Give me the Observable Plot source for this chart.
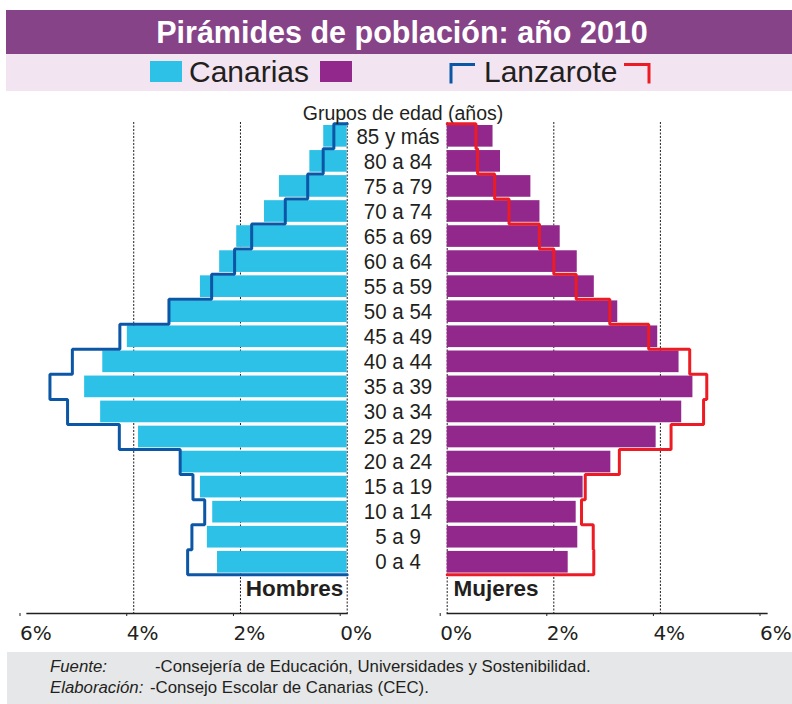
<!DOCTYPE html>
<html><head><meta charset="utf-8">
<script src="https://cdn.jsdelivr.net/npm/d3@7"></script>
<script src="https://cdn.jsdelivr.net/npm/@observablehq/plot@0.6"></script>
<style>
body{margin:0;background:#fff;}
#chart{position:relative;width:792px;height:704px;overflow:hidden;background:#fff;}
#chart > svg{position:absolute;left:0;}
</style></head><body><div id="chart"></div>
<script>
// ---- data (bottom row first) ----
const title = "Pirámides de población: año 2010";
const seriesNames = ["Canarias", "Lanzarote"];
const axisTitle = "Grupos de edad (años)";
const sexLabels = ["Hombres", "Mujeres"];
const tickValues = [0, 2, 4, 6];
const gridValues = [0, 2, 4];
const ageGroups = ["0 a 4","5 a 9","10 a 14","15 a 19","20 a 24","25 a 29","30 a 34","35 a 39","40 a 44","45 a 49","50 a 54","55 a 59","60 a 64","65 a 69","70 a 74","75 a 79","80 a 84","85 y más"];
const canariasHombres  = [2.43,2.62,2.52,2.75,3.12,3.91,4.62,4.92,4.58,4.12,3.32,2.75,2.39,2.07,1.55,1.27,0.70,0.44];
const canariasMujeres  = [2.27,2.45,2.42,2.55,3.07,3.92,4.40,4.61,4.35,3.95,3.20,2.76,2.44,2.12,1.74,1.57,1.00,0.86];
const lanzaroteHombres = [2.99,2.91,2.67,2.89,3.13,4.27,5.24,5.57,5.15,4.26,3.34,2.54,2.11,1.79,1.16,0.74,0.45,0.25];
const lanzaroteMujeres = [2.75,2.74,2.52,2.59,3.23,4.20,4.81,4.87,4.55,3.78,3.05,2.42,2.00,1.73,1.16,0.89,0.57,0.54];
const sourceLabels = ["Fuente:", "Elaboración:"];
const sourceTexts = ["-Consejería de Educación, Universidades y Sostenibilidad.", "-Consejo Escolar de Canarias (CEC)."];

// ---- styles ----
const C = {cyan:"#2EC1E7", purple:"#93288C", blue:"#0C56A6", red:"#ED1C24", ink:"#231F20", band:"#864388", pink:"#F2E4F0", gray:"#E6E7E8"};
const SANS = "'Liberation Sans', Arial, Helvetica, sans-serif";
const TICKF = "'DejaVu Sans', Verdana, sans-serif";

const rows = ageGroups.map((age, i) => ({age, i,
  ch: canariasHombres[i], cm: canariasMujeres[i], lh: lanzaroteHombres[i], lm: lanzaroteMujeres[i]}));
const steps = key => [{x: 0, y: 0}, ...rows.map(d => ({x: d[key], y: d.i})), {x: 0, y: rows.length}];

const chart = document.getElementById("chart");
const NS = "http://www.w3.org/2000/svg";
function el(tag, attrs, parent, text) {
  const e = document.createElementNS(NS, tag);
  for (const k in attrs) e.setAttribute(k, attrs[k]);
  if (text != null) e.textContent = text;
  if (parent) parent.appendChild(e);
  return e;
}
// horizontally condense text elements (narrow-font look) without moving them
function condense(nodes, s) {
  nodes.forEach(t => {
    const tr = t.getAttribute("transform");
    if (tr) t.setAttribute("transform", tr + ` scale(${s},1)`);
    else {
      const x = +t.getAttribute("x") || 0, y = +t.getAttribute("y") || 0;
      t.removeAttribute("x"); t.removeAttribute("y");
      t.setAttribute("transform", `translate(${x},${y}) scale(${s},1)`);
    }
  });
}

// ---- header ----
const head = el("svg", {width: 792, height: 92, style: "top:0"}, chart);
el("rect", {x: 6, y: 10, width: 786, height: 44, fill: C.band}, head);
el("rect", {x: 6, y: 54, width: 786, height: 37, fill: C.pink}, head);
el("text", {x: 402, y: 43, "text-anchor": "middle", fill: "#fff", "font-family": SANS, "font-weight": "bold", "font-size": 30.5}, head, title);
el("rect", {x: 150, y: 61, width: 32, height: 21, fill: C.cyan}, head);
el("text", {x: 189, y: 82, fill: C.ink, "font-family": SANS, "font-size": 30}, head, seriesNames[0]);
el("rect", {x: 320, y: 61, width: 32, height: 21, fill: C.purple}, head);
el("path", {d: "M451,83.5V64.5H475", fill: "none", stroke: C.blue, "stroke-width": 3}, head);
el("text", {x: 484, y: 82, fill: C.ink, "font-family": SANS, "font-size": 30}, head, seriesNames[1]);
el("path", {d: "M624,64.5H649V83.5", fill: "none", stroke: C.red, "stroke-width": 3}, head);

// ---- pyramid halves ----
function side(left) {
  const barKey = left ? "ch" : "cm";
  const lineKey = left ? "lh" : "lm";
  const marks = [
    Plot.ruleX(gridValues, {stroke: C.ink, strokeDasharray: "2,1.5", strokeWidth: 1}),
    Plot.rectX(rows, {x: barKey, y: "i", interval: 1, fill: left ? C.cyan : C.purple, insetTop: 1.7, insetBottom: 1.7}),
    Plot.line(steps(lineKey), {x: "x", y: "y", curve: "step-before", stroke: left ? C.blue : C.red, strokeWidth: 3, strokeLinejoin: "miter"}),
    Plot.frame({anchor: "bottom", stroke: C.ink, strokeWidth: 1.3}),
    Plot.axisX(tickValues, {tickSize: 3, tickPadding: 9, tickFormat: d => d + "%", textAnchor: "start", dx: -7,
      fontSize: 20, fontFamily: TICKF, label: null}),
    Plot.text([sexLabels[left ? 0 : 1]], {frameAnchor: left ? "bottom-right" : "bottom-left",
      textAnchor: left ? "end" : "start", dx: left ? -4 : 6.3, dy: -17.2,
      fontWeight: "bold", fontSize: 22.5, fontFamily: SANS, fill: C.ink})
  ];
  if (left) {
    marks.push(
      Plot.axisY(rows.map(d => d.i + 0.5), {anchor: "right", tickSize: 0, tickPadding: 0, dx: 50.8, textAnchor: "middle",
        tickFormat: d => ageGroups[Math.floor(d)], fontSize: 22.4, fontFamily: SANS, label: null}),
      Plot.text([axisTitle], {frameAnchor: "top-right", textAnchor: "middle", dx: 55.8, dy: -16,
        fontSize: 19.5, fontFamily: SANS, fill: C.ink})
    );
  }
  const svg = Plot.plot({
    width: 792, height: 560,
    marginTop: 30, marginBottom: 39,
    marginLeft: left ? 26.5 : 446.7,
    marginRight: left ? 445.3 : 25.5,
    x: {domain: [0, 6], reverse: left, label: null},
    y: {domain: [0, rows.length], insetTop: 1.3, insetBottom: 38.7, label: null, axis: left ? undefined : null},
    style: {background: "none", color: C.ink, fontFamily: SANS, overflow: "visible"},
    marks
  });
  svg.style.top = "92px";
  chart.appendChild(svg);
  if (left) {
    const labels = [...svg.querySelectorAll("text")].filter(t => ageGroups.includes(t.textContent));
    condense(labels, 0.915);
  }
}
side(true);
side(false);

// ---- footer ----
const foot = el("svg", {width: 792, height: 52, style: "top:652px"}, chart);
el("rect", {x: 7, y: 0, width: 785, height: 52, fill: C.gray}, foot);
sourceLabels.forEach((lab, k) => {
  el("text", {x: 50, y: 20 + k * 21, fill: C.ink, "font-family": SANS, "font-size": 16.8, "font-style": "italic"}, foot, lab);
  el("text", {x: k === 0 ? 155 : 150, y: 20 + k * 21, fill: C.ink, "font-family": SANS, "font-size": 16.8}, foot, sourceTexts[k]);
});
</script></body></html>
